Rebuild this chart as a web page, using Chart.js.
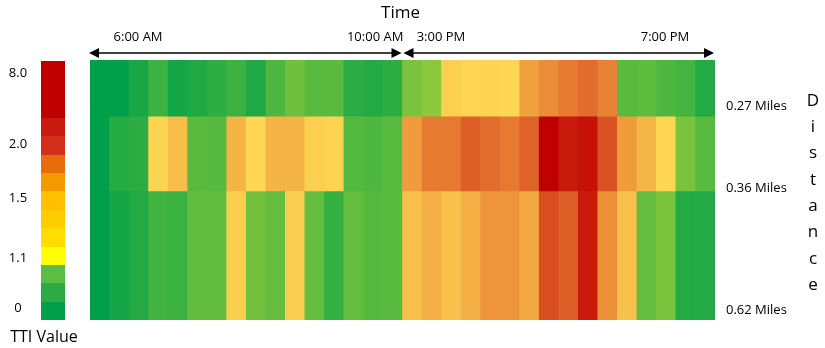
<!DOCTYPE html>
<html>
<head>
<meta charset="utf-8">
<script src="https://cdn.jsdelivr.net/npm/chart.js@4.4.1/dist/chart.umd.min.js"></script>
<style>
  html, body { margin: 0; padding: 0; background: #fff; }
  #wrap { position: relative; width: 825px; height: 348px; font-family: "Open Sans", sans-serif; }
  #heat { position: absolute; left: 0; top: 0; }
  #legendBar { position: absolute; left: 41px; top: 61px; width: 24px; height: 259px; display: flex; flex-direction: column; }
  #legendBar div { flex: 1; }
  .lg { position: absolute; font-size: 13px; color: #000; width: 36px; text-align: center; line-height: 16px; }
  #ttiTitle { position: absolute; left: 0; top: 326px; width: 88px; text-align: center; font-size: 16px; line-height: 20px; }
</style>
</head>
<body>
<div id="wrap">
  <canvas id="heat" width="825" height="348"></canvas>
  <div id="legendBar"></div>
  <div id="ttiTitle">TTI Value</div>
</div>
<script>
// 15-minute slots, morning and afternoon peaks
const timeSlots = [
  '6:00 AM', '6:15 AM', '6:30 AM', '6:45 AM', '7:00 AM', '7:15 AM', '7:30 AM', '7:45 AM',
  '8:00 AM', '8:15 AM', '8:30 AM', '8:45 AM', '9:00 AM', '9:15 AM', '9:30 AM', '9:45 AM',
  '3:00 PM', '3:15 PM', '3:30 PM', '3:45 PM', '4:00 PM', '4:15 PM', '4:30 PM', '4:45 PM',
  '5:00 PM', '5:15 PM', '5:30 PM', '5:45 PM', '6:00 PM', '6:15 PM', '6:30 PM', '6:45 PM'
];
const timeTicks = ['6:00 AM', '10:00 AM', '3:00 PM', '7:00 PM'];

const segmentNames = ['0.27 Miles', '0.36 Miles', '0.62 Miles'];
const segmentLengths = [0.27, 0.36, 0.62];

// TTI per segment
const tti027 = [
  0.90, 0.90, 0.94, 1.00, 0.935, 0.95, 0.977, 1.00, 0.95, 1.02, 1.056, 1.034, 1.034, 0.972, 0.955, 0.975,
  1.07, 1.09, 1.141, 1.10, 1.118, 1.10, 1.467, 1.565, 1.637, 1.695, 1.605, 1.034, 1.037, 1.019, 1.009, 0.957
];
const tti036 = [
  0.90, 0.96, 0.973, 1.118, 1.247, 1.034, 1.03, 1.30, 1.10, 1.30, 1.30, 1.141, 1.118, 1.029, 1.019, 1.032,
  1.50, 1.637, 1.637, 1.75, 1.69, 1.637, 1.734, 2.50, 2.00, 2.185, 1.795, 1.50, 1.288, 1.10, 1.07, 1.032
];
const tti062 = [
  0.90, 0.933, 0.958, 1.004, 0.998, 1.043, 1.043, 1.147, 1.062, 1.045, 1.147, 1.045, 0.987, 1.045, 1.029, 1.032,
  1.235, 1.333, 1.224, 1.333, 1.528, 1.528, 1.40, 1.806, 1.75, 2.00, 1.544, 1.224, 1.045, 1.069, 0.957, 0.957
];

// legend swatches, top to bottom
const legendColors = ['#C00000', '#C81A0E', '#D2301A', '#E46C0A', '#F39A00', '#FFC000',
                      '#FFCC00', '#FFDD00', '#FFFF00', '#5CBD45', '#2BAA45', '#00A04B'];
const legendLabels = ['8.0', '2.0', '1.5', '1.1', '0'];

// colour ramp used for the cells
const colorStops = [
  [0.90, [0, 160, 74]], [1.00, [60, 178, 64]], [1.09, [140, 200, 60]],
  [1.10, [254, 214, 83]], [1.30, [245, 180, 70]], [1.50, [240, 156, 61]],
  [1.75, [222, 94, 40]], [2.00, [200, 27, 12]], [2.50, [192, 0, 0]]
];

function ttiColor(v) {
  if (v <= colorStops[0][0]) return 'rgb(' + colorStops[0][1].join(',') + ')';
  for (let i = 1; i < colorStops.length; i++) {
    const [v1, c1] = colorStops[i];
    if (v <= v1) {
      const [v0, c0] = colorStops[i - 1];
      const t = (v - v0) / (v1 - v0);
      const c = c0.map((a, k) => Math.round(a + (c1[k] - a) * t));
      return 'rgb(' + c.join(',') + ')';
    }
  }
  return 'rgb(' + colorStops[colorStops.length - 1][1].join(',') + ')';
}

// legend (html)
const bar = document.getElementById('legendBar');
legendColors.forEach((c, i) => {
  const d = document.createElement('div');
  d.style.background = c;
  if (i === 0) d.style.flex = '3.1';
  bar.appendChild(d);
});
const labelTops = [64, 135, 189, 249, 299];
legendLabels.forEach((t, i) => {
  const d = document.createElement('div');
  d.className = 'lg';
  d.textContent = t;
  d.style.left = '0px';
  d.style.top = labelTops[i] + 'px';
  document.getElementById('wrap').appendChild(d);
});

// cumulative distance along the corridor
const rows = [tti027, tti036, tti062];
let acc = 0;
const datasets = rows.map((vals, r) => {
  const from = acc;
  acc += segmentLengths[r];
  const to = acc;
  return {
    label: segmentNames[r],
    data: vals.map(() => [from, to]),
    backgroundColor: vals.map(ttiColor),
    borderWidth: 0,
    borderSkipped: false,
    grouped: false,
    barPercentage: 1,
    categoryPercentage: 1
  };
});
const totalLength = acc;

const annotate = {
  id: 'annotate',
  afterDraw(chart) {
    const ctx = chart.ctx;
    const xs = chart.scales.x, ys = chart.scales.y;
    const area = chart.chartArea;
    ctx.save();
    ctx.fillStyle = '#000';
    ctx.strokeStyle = '#000';
    ctx.textBaseline = 'middle';

    // title
    ctx.font = '17px "Open Sans"';
    ctx.textAlign = 'center';
    ctx.fillText('Time', xs.getPixelForValue(15.4), 13);

    // time labels
    ctx.font = '13px "Open Sans"';
    const tickIdx = [1.96, 14.1, 17.47, 28.94];
    timeTicks.forEach((t, i) => ctx.fillText(t, xs.getPixelForValue(tickIdx[i]), 37));

    // double arrows over each period
    const ay = area.top - 7;
    const mid = xs.getPixelForValue(15.5);
    const l = area.left - 1, r = area.right - 1;
    ctx.lineWidth = 1.5;
    ctx.beginPath();
    ctx.moveTo(l + 6, ay); ctx.lineTo(mid - 6, ay);
    ctx.moveTo(mid + 6, ay); ctx.lineTo(r - 6, ay);
    ctx.stroke();
    const head = (x, dir) => {
      ctx.beginPath();
      ctx.moveTo(x, ay);
      ctx.lineTo(x - dir * 10, ay - 5);
      ctx.lineTo(x - dir * 10, ay + 5);
      ctx.closePath();
      ctx.fill();
    };
    head(l, -1); head(mid - 1, 1); head(mid + 1, -1); head(r, 1);

    // segment labels
    ctx.textAlign = 'left';
    const nudge = [-10, -3, -10];
    let cum = 0;
    segmentNames.forEach((s, i) => {
      cum += segmentLengths[i];
      ctx.fillText(s, area.right + 11, ys.getPixelForValue(cum) + nudge[i]);
    });

    // vertical axis title, one letter per line
    ctx.font = '17px "Open Sans"';
    ctx.textAlign = 'center';
    'Distance'.split('').forEach((ch, i) => ctx.fillText(ch, 813, 101 + i * 26.3));
    ctx.restore();
  }
};

new Chart(document.getElementById('heat'), {
  type: 'bar',
  data: { labels: timeSlots, datasets: datasets },
  options: {
    responsive: false,
    animation: false,
    devicePixelRatio: 1,
    layout: { padding: { left: 90, right: 110, top: 60, bottom: 28 } },
    scales: {
      x: { display: false, offset: true },
      y: { display: false, min: 0, max: totalLength, reverse: true }
    },
    plugins: { legend: { display: false }, tooltip: { enabled: false } }
  },
  plugins: [annotate]
});
</script>
</body>
</html>
